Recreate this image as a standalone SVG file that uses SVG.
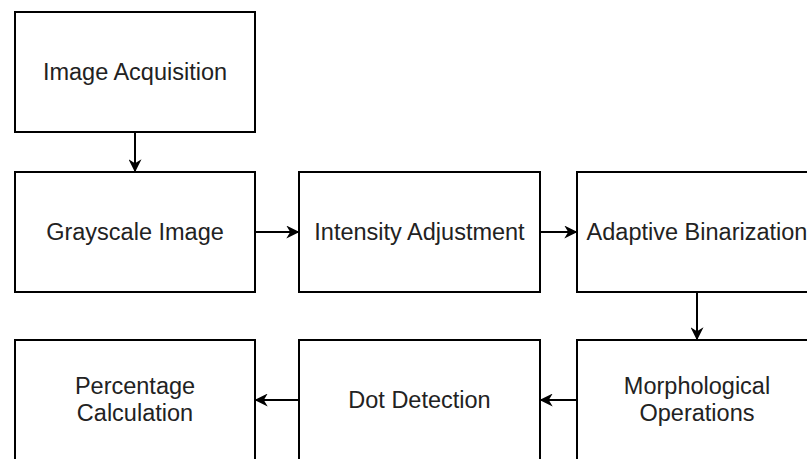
<svg xmlns="http://www.w3.org/2000/svg" width="807" height="459" viewBox="0 0 807 459">
<defs>
<style>
.box{fill:#fff;stroke:#000;stroke-width:2}
.lbl{font-family:"Liberation Sans",Arial,sans-serif;font-size:23.5px;fill:#222;text-anchor:middle;dominant-baseline:central}
.edge{fill:none;stroke:#000;stroke-width:2}
</style>
<marker id="arr" viewBox="0 0 10 10" refX="9" refY="5" markerWidth="13" markerHeight="13" markerUnits="userSpaceOnUse" orient="auto">
<path d="M0,0 L10,5 L0,10 L3,5 Z" fill="#000"/>
</marker>
</defs>
<rect width="807" height="459" fill="#fff"/>
<g id="n1"><rect class="box" x="15" y="12" width="240" height="120"/><text class="lbl" x="135" y="72">Image Acquisition</text></g>
<g id="n2"><rect class="box" x="15" y="172" width="240" height="120"/><text class="lbl" x="135" y="232">Grayscale Image</text></g>
<g id="n3"><rect class="box" x="299" y="172" width="241" height="120"/><text class="lbl" x="419.5" y="232">Intensity Adjustment</text></g>
<g id="n4"><rect class="box" x="577" y="172" width="240" height="120"/><text class="lbl" x="697" y="232">Adaptive Binarization</text></g>
<g id="n5"><rect class="box" x="577" y="340" width="240" height="120"/><text class="lbl" x="697" y="386">Morphological</text><text class="lbl" x="697" y="413">Operations</text></g>
<g id="n6"><rect class="box" x="299" y="340" width="241" height="120"/><text class="lbl" x="419.5" y="400">Dot Detection</text></g>
<g id="n7"><rect class="box" x="15" y="340" width="240" height="120"/><text class="lbl" x="135" y="386">Percentage</text><text class="lbl" x="135" y="413">Calculation</text></g>
<g id="edges">
<path class="edge" d="M135,132 L135,171" marker-end="url(#arr)"/>
<path class="edge" d="M255,232 L298,232" marker-end="url(#arr)"/>
<path class="edge" d="M540,232 L576,232" marker-end="url(#arr)"/>
<path class="edge" d="M697,292 L697,339" marker-end="url(#arr)"/>
<path class="edge" d="M577,400 L541,400" marker-end="url(#arr)"/>
<path class="edge" d="M299,400 L256,400" marker-end="url(#arr)"/>
</g>
</svg>
